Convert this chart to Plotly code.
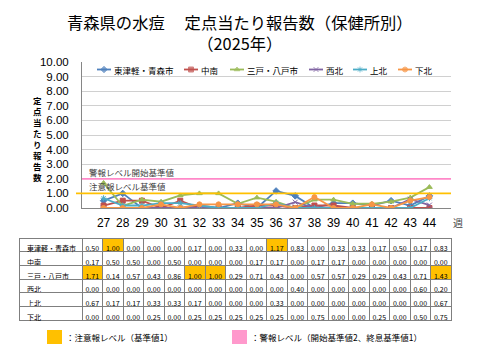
import plotly.graph_objects as go

weeks = [27, 28, 29, 30, 31, 32, 33, 34, 35, 36, 37, 38, 39, 40, 41, 42, 43, 44]
week_labels = [str(w) for w in weeks]

series_names = ["東津軽・青森市", "中南", "三戸・八戸市", "西北", "上北", "下北"]
higashitsugaru = [0.50, 1.00, 0.00, 0.00, 0.00, 0.17, 0.00, 0.33, 0.00, 1.17, 0.83, 0.00, 0.33, 0.33, 0.17, 0.50, 0.17, 0.83]
chunan = [0.17, 0.50, 0.50, 0.00, 0.50, 0.00, 0.00, 0.00, 0.17, 0.17, 0.00, 0.17, 0.17, 0.00, 0.00, 0.00, 0.00, 0.00]
sannohe = [1.71, 0.14, 0.57, 0.43, 0.86, 1.00, 1.00, 0.29, 0.71, 0.43, 0.00, 0.57, 0.57, 0.29, 0.29, 0.43, 0.71, 1.43]
seihoku = [0.00, 0.00, 0.00, 0.00, 0.00, 0.00, 0.00, 0.00, 0.00, 0.00, 0.40, 0.00, 0.00, 0.00, 0.00, 0.00, 0.60, 0.20]
kamikita = [0.67, 0.17, 0.17, 0.33, 0.33, 0.17, 0.00, 0.00, 0.00, 0.33, 0.00, 0.00, 0.00, 0.00, 0.00, 0.00, 0.00, 0.67]
shimokita = [0.00, 0.00, 0.00, 0.25, 0.00, 0.25, 0.25, 0.25, 0.25, 0.25, 0.00, 0.75, 0.00, 0.00, 0.25, 0.00, 0.50, 0.75]
all_values = [higashitsugaru, chunan, sannohe, seihoku, kamikita, shimokita]

alert_level = 1.0
warning_level = 2.0

colors = ["#4F81BD", "#C0504D", "#9BBB59", "#8064A2", "#4BACC6", "#F79646"]
symbols = ["diamond", "square", "triangle-up", "x-thin-open", "asterisk-open", "circle"]

FONT = "Noto Sans CJK JP"
W, H = 480, 360

def px(x):
    return x / W

def py(y):
    return 1 - y / H

fig = go.Figure()

for name, vals, c, s in zip(series_names, all_values, colors, symbols):
    fig.add_trace(go.Scatter(
        x=week_labels, y=vals, name=name, mode="lines+markers",
        line=dict(color=c, width=1.8),
        marker=dict(color=c, symbol=s, size=5, line=dict(color=c, width=1)),
        xaxis="x", yaxis="y", showlegend=False,
    ))

# custom legend (glyph positions in pixel space on an overlay axis)
legend_starts = [97, 184, 230, 309, 353, 398]
legend_y = 69.5
for name, c, s, x0 in zip(series_names, colors, symbols, legend_starts):
    fig.add_trace(go.Scatter(
        x=[x0, x0 + 7, x0 + 14], y=[legend_y] * 3, mode="lines+markers",
        line=dict(color=c, width=1.8),
        marker=dict(color=c, symbol=s, size=[0, 5, 0], line=dict(color=c, width=1)),
        xaxis="x2", yaxis="y2", showlegend=False, hoverinfo="skip",
    ))
    fig.add_annotation(text=name, xref="paper", yref="paper",
                       x=px(x0 + 15), y=py(legend_y), xanchor="left", yanchor="middle",
                       showarrow=False, font=dict(family=FONT, size=8.5, color="#000000"))

# reference lines
fig.add_shape(type="line", xref="x domain", yref="y", x0=0, x1=1,
              y0=warning_level, y1=warning_level, line=dict(color="#FF88C8", width=1.8))
fig.add_shape(type="line", xref="paper", yref="y", x0=px(76), x1=px(451),
              y0=alert_level, y1=alert_level, line=dict(color="#FFC000", width=1.8))

fig.add_annotation(text="警報レベル開始基準値", xref="paper", yref="paper",
                   x=px(87), y=py(172), xanchor="left", yanchor="middle",
                   showarrow=False, font=dict(family=FONT, size=8.5, color="#404040"))
fig.add_annotation(text="注意報レベル基準値", xref="paper", yref="paper",
                   x=px(87), y=py(186), xanchor="left", yanchor="middle",
                   showarrow=False, font=dict(family=FONT, size=8.5, color="#404040"))

# title (two lines)
fig.add_annotation(text="青森県の水痘　 定点当たり報告数（保健所別）<br>（2025年）",
                   xref="paper", yref="paper", align="center",
                   x=px(240), y=py(32.5), xanchor="center", yanchor="middle",
                   showarrow=False, font=dict(family=FONT, size=16.3, color="#000000"))

# y axis title (vertical, one character per line)
ytitle = "定点当たり報告数"
fig.add_annotation(text="<b>" + "<br>".join(list(ytitle)) + "</b>", xref="paper", yref="paper",
                   x=px(37), y=py(138), xanchor="center", yanchor="middle",
                   showarrow=False, font=dict(family=FONT, size=8.5, color="#000000"))
fig.add_annotation(text="週", xref="paper", yref="paper",
                   x=px(458), y=py(222), xanchor="center", yanchor="middle",
                   showarrow=False, font=dict(family=FONT, size=10, color="#404040"))

# table
table_cols = [series_names] + [[f"{v[i]:.2f}" for v in all_values] for i in range(len(weeks))]
fills = [["#FFFFFF"] * len(series_names)] + [
    ["#FFC000" if v[i] >= alert_level else "#FFFFFF" for v in all_values] for i in range(len(weeks))]
header_vals = [c[0] for c in table_cols]
header_fill = [f[0] for f in fills]
fig.add_trace(go.Table(
    domain=dict(x=[px(19), px(451)], y=[py(321), py(238)]),
    columnwidth=[63] + [20.5] * len(weeks),
    header=dict(values=header_vals, fill=dict(color=header_fill),
                line=dict(color="#7F7F7F", width=1), height=13.7,
                align=["left"] + ["center"] * len(weeks),
                font=dict(family=FONT, size=7, color="#000000")),
    cells=dict(values=[c[1:] for c in table_cols], fill=dict(color=[f[1:] for f in fills]),
               line=dict(color="#7F7F7F", width=1), height=13.7,
               align=["left"] + ["center"] * len(weeks),
               font=dict(family=FONT, size=7, color="#000000")),
))

# bottom legend
fig.add_shape(type="rect", xref="paper", yref="paper", x0=px(47), x1=px(62),
              y0=py(344), y1=py(330), fillcolor="#FFC000", line=dict(width=0))
fig.add_annotation(text="：注意報レベル（基準値1）", xref="paper", yref="paper",
                   x=px(64), y=py(337), xanchor="left", yanchor="middle",
                   showarrow=False, font=dict(family=FONT, size=8.5, color="#000000"))
fig.add_shape(type="rect", xref="paper", yref="paper", x0=px(232), x1=px(247),
              y0=py(344), y1=py(330), fillcolor="#FF99CC", line=dict(width=0))
fig.add_annotation(text="：警報レベル（開始基準値2、終息基準値1）", xref="paper", yref="paper",
                   x=px(249), y=py(337), xanchor="left", yanchor="middle",
                   showarrow=False, font=dict(family=FONT, size=8.5, color="#000000"))

fig.update_layout(
    width=W, height=H,
    margin=dict(l=0, r=0, t=0, b=0, autoexpand=False),
    paper_bgcolor="#FFFFFF", plot_bgcolor="rgba(0,0,0,0)",
    font=dict(family=FONT, color="#000000"),
    showlegend=False,
    xaxis=dict(domain=[px(82), px(451)], type="category", showgrid=False,
               showline=True, linecolor="#868686", linewidth=1, automargin=False,
               ticks="", ticklabelstandoff=4,
               tickfont=dict(family="Liberation Sans", size=12, color="#000000"),
               anchor="y"),
    yaxis=dict(domain=[py(208), py(62)], range=[0, 10], dtick=1, tickformat=".2f",
               showgrid=True, gridcolor="#D0D0D0", gridwidth=1, automargin=False,
               showline=True, linecolor="#868686", linewidth=1, zeroline=False,
               ticks="", ticklabelstandoff=10,
               tickfont=dict(family="Liberation Sans", size=11.5, color="#000000"),
               anchor="x"),
    xaxis2=dict(domain=[0, 1], range=[0, W], visible=False, fixedrange=True, anchor="y2"),
    yaxis2=dict(domain=[0, 1], range=[H, 0], visible=False, fixedrange=True, anchor="x2"),
)

fig.write_html("out.html", config={"displayModeBar": False},
               post_script="document.body.style.margin='0';")
